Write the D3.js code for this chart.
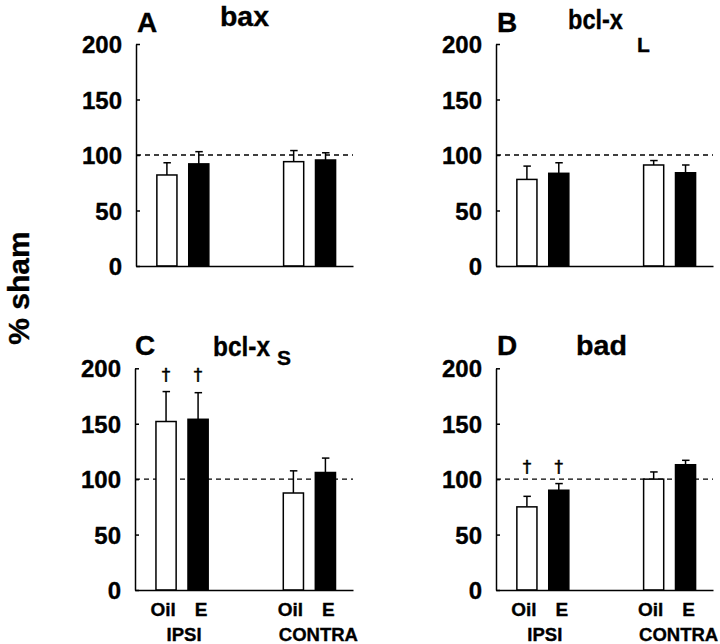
<!DOCTYPE html>
<html>
<head>
<meta charset="utf-8">
<script src="https://cdn.jsdelivr.net/npm/d3@7/dist/d3.min.js"></script>
<style>
  html, body { margin: 0; padding: 0; background: #fff; }
  svg { display: block; }
  text { font-family: "Liberation Sans", Arial, Helvetica, sans-serif; font-weight: bold; fill: #000; stroke: #000; stroke-width: 0.35px; }
</style>
</head>
<body>
<svg id="chart" width="720" height="644"></svg>
<script>
// ---------------- data ----------------
const panelLetters = ["A", "B", "C", "D"];
const geneNames = ["bax", "bcl-x", "bcl-x", "bad"];
const geneSubscripts = ["", "L", "S", ""];
const groups = ["IPSI", "CONTRA"];
const treatments = ["Oil", "E"];
const yTicks = [0, 50, 100, 150, 200];
const shamLevel = 100;

// bar order: IPSI-Oil, IPSI-E, CONTRA-Oil, CONTRA-E
const baxMean  = [82, 92, 94, 95.5];
const baxSem   = [11, 11, 10, 6.5];
const bclxLMean = [78, 83.5, 91, 84];
const bclxLSem  = [12, 9.5, 4, 7];
const bclxSMean = [152, 154, 87.5, 106];
const bclxSSem  = [27, 24, 20, 13];
const badMean  = [75, 90, 100, 113];
const badSem   = [9.5, 6, 6.5, 4];
const bclxSSig = [true, true, false, false];
const badSig   = [true, true, false, false];
const noSig    = [false, false, false, false];

const panelMeans = [baxMean, bclxLMean, bclxSMean, badMean];
const panelSems = [baxSem, bclxLSem, bclxSSem, badSem];
const panelSigs = [noSig, noSig, bclxSSig, badSig];

// ---------------- layout ----------------
const layout = [
  { ax: 136, top: 44, bottom: 266, width: 217, showX: false,
    letter: [1, -12.5], gene: [84, -18, 49], sub: null },
  { ax: 496, top: 44, bottom: 266, width: 217, showX: false,
    letter: [1, -12.5], gene: [72, -15, 55], sub: [141, 8] },
  { ax: 135, top: 368.3, bottom: 590, width: 218, showX: true,
    letter: [0, -13], gene: [78, -12.5, 57], sub: [142, -3] },
  { ax: 496, top: 368.3, bottom: 590, width: 217, showX: true,
    letter: [1, -13], gene: [80, -13, 51], sub: null }
];

const svg = d3.select("#chart");

// fit a text horizontally to a target width at a given position
function fitText(parent, str, size, x, yy, target) {
  const t = parent.append("text").attr("x", 0).attr("y", 0)
    .style("font-size", size + "px").text(str);
  const w = t.node().getComputedTextLength();
  const sx = w > 0 ? target / w : 1;
  t.attr("transform", `translate(${x},${yy}) scale(${sx},1)`);
  return t;
}

// y-axis label
svg.append("text")
  .attr("transform", "translate(29,288) rotate(-90)")
  .attr("text-anchor", "middle")
  .style("font-size", "30px")
  .text("% sham");

layout.forEach((L, i) => {
  const g = svg.append("g").attr("transform", `translate(${L.ax},${L.top})`);
  const h = L.bottom - L.top;
  const y = d3.scaleLinear().domain([0, 200]).range([h, 0]);
  const x0 = d3.scaleBand().domain(groups).range([0, L.width])
    .paddingInner(0.59).paddingOuter(0.151).align(0.545);
  const x1 = d3.scaleBand().domain(treatments).range([0, x0.bandwidth()])
    .paddingInner(0.37).paddingOuter(0);

  const bars = [];
  groups.forEach((gr, gi) => treatments.forEach((t, ti) => {
    const k = gi * 2 + ti;
    bars.push({ group: gr, treat: t, mean: panelMeans[i][k], sem: panelSems[i][k], sig: panelSigs[i][k] });
  }));

  // dashed sham line
  g.append("line")
    .attr("x1", 0).attr("x2", L.width)
    .attr("y1", y(shamLevel)).attr("y2", y(shamLevel))
    .attr("stroke", "#000").attr("stroke-width", 1.4)
    .attr("stroke-dasharray", "5,4");

  // error bars (upper only)
  const bx = d => x0(d.group) + x1(d.treat) + x1.bandwidth() / 2;
  g.selectAll(".err").data(bars).enter().append("line")
    .attr("x1", bx).attr("x2", bx)
    .attr("y1", d => y(d.mean)).attr("y2", d => y(d.mean + d.sem))
    .attr("stroke", "#000").attr("stroke-width", 1.5);
  g.selectAll(".cap").data(bars).enter().append("line")
    .attr("x1", d => bx(d) - 3.5).attr("x2", d => bx(d) + 4)
    .attr("y1", d => y(d.mean + d.sem)).attr("y2", d => y(d.mean + d.sem))
    .attr("stroke", "#000").attr("stroke-width", 1.5);

  // bars
  g.selectAll(".bar").data(bars).enter().append("rect")
    .attr("x", d => x0(d.group) + x1(d.treat))
    .attr("width", x1.bandwidth())
    .attr("y", d => y(d.mean))
    .attr("height", d => y(0) - y(d.mean))
    .attr("fill", d => d.treat === "E" ? "#000" : "#fff")
    .attr("stroke", "#000").attr("stroke-width", 1.5);

  // significance daggers (aligned at a common height above the tallest marked error bar)
  const sigBars = bars.filter(d => d.sig);
  if (sigBars.length) {
    const sigTop = d3.max(sigBars, d => d.mean + d.sem);
    g.selectAll(".sig").data(sigBars).enter().append("text")
      .attr("x", bx).attr("y", y(sigTop) - 11)
      .attr("text-anchor", "middle")
      .style("font-family", "'DejaVu Sans', sans-serif")
      .style("font-size", "17px").style("font-weight", "normal")
      .style("fill", "#000").style("stroke", "#000").style("stroke-width", "0.5px")
      .text("\u2020");
  }

  // y axis
  const yAxis = d3.axisLeft(y).tickValues(yTicks).tickSizeInner(-4).tickSizeOuter(0).tickPadding(14);
  const ya = g.append("g").call(yAxis);
  ya.select(".domain").attr("stroke-width", 1.5);
  ya.selectAll(".tick line").attr("stroke-width", 1.5);
  ya.selectAll(".tick text")
    .attr("dy", "0.36em")
    .style("font-size", "24px").style("font-family", "'Liberation Sans', Arial, sans-serif").style("font-weight", "bold");

  // x axis (baseline only)
  const xAxis = d3.axisBottom(d3.scaleLinear().domain([0, 1]).range([0, L.width])).tickValues([]).tickSizeOuter(0);
  const xa = g.append("g").attr("transform", `translate(0,${h})`).call(xAxis);
  xa.select(".domain").attr("stroke-width", 1.5);

  if (L.showX) {
    g.selectAll(".tl").data(bars).enter().append("text")
      .attr("x", d => bx(d) + (d.treat === "Oil" ? -3 : 3))
      .attr("y", h + 26)
      .attr("text-anchor", "middle")
      .style("font-size", "19px")
      .text(d => d.treat);
    g.selectAll(".gl").data(groups).enter().append("text")
      .attr("x", d => x0(d) + x0.bandwidth() / 2 + (d === "CONTRA" ? 9 : 2))
      .attr("y", h + 51)
      .attr("text-anchor", "middle")
      .style("font-size", "18.5px")
      .text(d => d);
  }

  // titles
  g.append("text")
    .attr("x", L.letter[0]).attr("y", L.letter[1])
    .style("font-size", "28px")
    .text(panelLetters[i]);
  fitText(g, geneNames[i], 28, L.gene[0], L.gene[1], L.gene[2]);
  if (L.sub) {
    g.append("text")
      .attr("x", L.sub[0]).attr("y", L.sub[1])
      .style("font-size", "21px")
      .text(geneSubscripts[i]);
  }
});
</script>
</body>
</html>
